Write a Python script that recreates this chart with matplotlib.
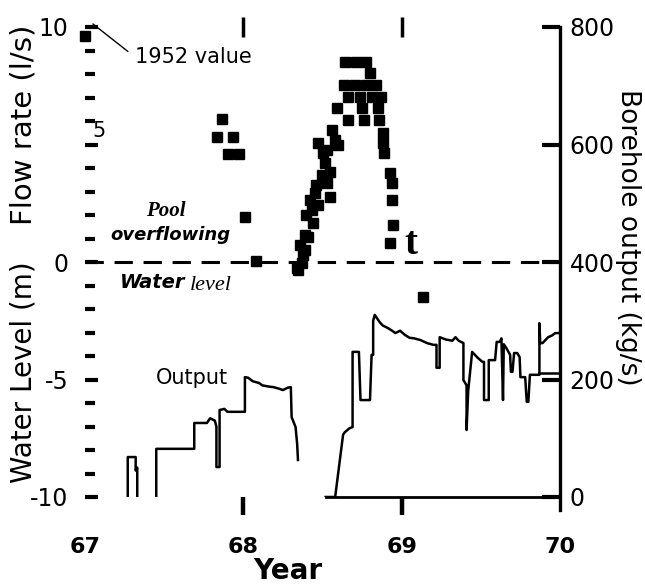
import matplotlib
matplotlib.use('Agg')
import matplotlib.pyplot as plt
from matplotlib.ticker import MultipleLocator, FixedFormatter

# ---- data ----
# flow rate (l/s) -- squares
flow_year = [67.0, 67.865, 67.834, 67.935, 67.903, 67.973, 68.011, 68.08,
             68.642, 68.712, 68.775, 68.80, 68.636, 68.706, 68.775, 68.838,
             68.661, 68.737, 68.813, 68.870, 68.592, 68.750, 68.851,
             68.661, 68.762, 68.857, 68.560, 68.579, 68.472, 68.529, 68.598,
             68.883, 68.883, 68.889, 68.927, 68.939, 68.939, 68.946, 68.927,
             68.503, 68.548, 68.529, 68.548, 68.453, 68.434, 68.440, 68.409,
             68.390, 68.371, 68.516, 68.497, 68.459, 68.421, 68.472, 68.396,
             68.390, 68.358, 68.377]
flow_rate = [9.6, 6.09, 5.32, 5.32, 4.60, 4.60, 1.91, 0.05,
             8.51, 8.51, 8.51, 8.04, 7.53, 7.53, 7.53, 7.53,
             7.02, 7.02, 7.02, 7.02, 6.55, 6.55, 6.55,
             6.04, 6.04, 6.04, 5.62, 5.19, 5.06, 4.77, 4.98,
             5.49, 5.06, 4.64, 3.79, 3.36, 2.64, 1.57, 0.81,
             4.64, 3.83, 3.36, 2.77, 2.94, 2.21, 1.66, 1.06,
             0.51, -0.04, 4.21, 3.70, 3.28, 2.64, 2.43, 2.00,
             1.15, 0.72, 0.30]

# water level (m) -- squares below the overflow line
level_year = [68.346, 68.339, 69.135]
level_m = [-0.34, -0.26, -1.5]

# borehole output (kg/s), pieces of the trace
out1_year = [67.27, 67.27, 67.32, 67.32, 67.33, 67.33]
out1_kgs = [0, 68, 68, 45, 50, 0]

out2_year = [67.45, 67.45, 67.69, 67.69, 67.77, 67.79, 67.82, 67.83, 67.83,
             67.85, 67.85, 67.88, 67.90, 67.94, 68.01, 68.01, 68.03, 68.06,
             68.10, 68.12, 68.16, 68.19, 68.23, 68.25, 68.28, 68.30, 68.305,
             68.33, 68.34, 68.345]
out2_kgs = [0, 82, 82, 126, 126, 134, 130, 120, 51,
            51, 148, 150, 145, 145, 145, 204, 203, 197,
            194, 190, 188, 187, 184, 182, 186, 187, 136,
            119, 90, 63]

out3_year = [68.52, 68.58, 68.63, 68.64, 68.67, 68.69, 68.69, 68.73, 68.74,
             68.80, 68.81, 68.82, 68.82, 68.83, 68.86, 68.88, 68.91, 68.94,
             68.96, 68.99, 69.02, 69.05, 69.08, 69.12, 69.16, 69.20, 69.22,
             69.22, 69.24, 69.24, 69.28, 69.32, 69.34, 69.36, 69.39, 69.39,
             69.41, 69.41, 69.42, 69.445, 69.48, 69.51, 69.52, 69.52, 69.55,
             69.55, 69.59, 69.60, 69.62, 69.63, 69.64, 69.645, 69.66, 69.685,
             69.69, 69.70, 69.71, 69.73, 69.745, 69.75, 69.78, 69.79, 69.80,
             69.81, 69.87, 69.87, 69.875, 69.89, 69.925, 69.95, 69.97, 70.0]
out3_kgs = [0, 0, 106, 110, 117, 119, 247, 247, 165,
            165, 242, 242, 300, 310, 298, 292, 288, 283,
            279, 283, 276, 271, 270, 267, 262, 259, 259,
            220, 220, 272, 268, 266, 272, 266, 262, 199,
            190, 114, 180, 247, 237, 230, 230, 165, 165,
            233, 233, 264, 264, 270, 165, 260, 254, 242,
            213, 213, 245, 245, 238, 204, 204, 162, 162,
            208, 208, 296, 262, 262, 272, 275, 279, 279]

out4_year = [69.87, 70.0]
out4_kgs = [211, 211]

x_ticks = [67, 68, 69, 70]
x_labels = ['67', '68', '69', '70']
left_ticks = [-10, -5, 0, 5, 10]
left_labels = ['-10', '-5', '0', '', '10']
right_ticks = [0, 200, 400, 600, 800]

W, H = 645, 586


def px(x, y):
    return x / W, 1 - y / H


fig = plt.figure(figsize=(6.45, 5.86), dpi=100)
ax = fig.add_axes([85 / W, 1 - 497 / H, 475 / W, 470 / H])
ax2 = ax.twinx()

ax.set_xlim(67, 70)
ax.set_ylim(-10, 10)
ax2.set_ylim(0, 800)

# overflow line
ax.axhline(0, color='black', lw=2.2, ls=(0, (6, 3.5)), zorder=2)

ax.plot(flow_year, flow_rate, 's', ms=7.5, color='black', clip_on=False, zorder=3)
ax.plot(level_year, level_m, 's', ms=7.5, color='black', clip_on=False, zorder=3)

for yy, kk in [(out1_year, out1_kgs), (out2_year, out2_kgs),
               (out3_year, out3_kgs), (out4_year, out4_kgs)]:
    ax2.plot(yy, kk, '-', color='black', lw=1.8)

# spines
for s in ['top', 'left', 'right']:
    ax.spines[s].set_visible(False)
ax.spines['bottom'].set_bounds(68.52, 70)
ax.spines['bottom'].set_linewidth(2.0)
for s in ['top', 'left', 'bottom']:
    ax2.spines[s].set_visible(False)
ax2.spines['right'].set_linewidth(2.4)
ax2.spines['right'].set_bounds(-22, 800)

# x axis
ax.xaxis.remove_overlapping_locs = False
ax.set_xticks(x_ticks)
ax.set_xticklabels(x_labels, fontsize=16, fontweight='bold')
ax.tick_params(axis='x', which='major', length=0, pad=29)
ax.set_xticks([68, 69], minor=True)
ax.tick_params(axis='x', which='minor', direction='out', length=13, width=3.2)
top = ax.secondary_xaxis('top')
top.set_xticks([68, 69])
top.tick_params(direction='inout', length=14, width=2.5, labeltop=False)
top.spines['top'].set_visible(False)

# left axis
ax.set_yticks(left_ticks)
ax.yaxis.set_major_formatter(FixedFormatter(left_labels))
ax.yaxis.set_minor_locator(MultipleLocator(1))
ax.tick_params(axis='y', which='major', direction='in', length=9, width=3,
               labelsize=17, pad=12)
ax.tick_params(axis='y', which='minor', direction='in', length=7, width=3)

# right axis
ax2.set_yticks(right_ticks)
ax2.tick_params(axis='y', direction='in', length=13, width=3, labelsize=17, pad=7)

# axis titles
fig.text(*px(288, 571), 'Year', fontsize=20, fontweight='bold', ha='center', va='center')
fig.text(*px(24, 125), 'Flow rate (l/s)', fontsize=21, rotation=90, ha='center', va='center')
fig.text(*px(24, 372), 'Water Level (m)', fontsize=20, rotation=90, ha='center', va='center')
fig.text(*px(628, 237), 'Borehole output (kg/s)', fontsize=19, rotation=270,
         ha='center', va='center')

# annotations
ax.annotate('1952 value', xy=(67.05, 10.13), xytext=(67.316, 8.72),
            fontsize=15, ha='left', va='center', annotation_clip=False,
            arrowprops=dict(arrowstyle='-', lw=1.0, shrinkA=4, shrinkB=0,
                            relpos=(0, 0.5)))
fig.text(*px(99, 131), '5', fontsize=15, ha='center', va='center')
fig.text(*px(166, 211), 'Pool', fontsize=15, family='Liberation Serif',
         style='italic', fontweight='bold', ha='center', va='center')
fig.text(*px(170, 235), 'overflowing', fontsize=13, style='italic',
         fontweight='bold', ha='center', va='center')
fig.text(*px(120, 283), 'Water', fontsize=14, style='italic',
         fontweight='bold', ha='left', va='center')
fig.text(*px(190, 285), 'level', fontsize=16, family='Liberation Serif',
         style='italic', ha='left', va='center')
fig.text(*px(192, 378), 'Output', fontsize=15, ha='center', va='center')
fig.text(*px(411, 245), 't', fontsize=28, family='Liberation Serif',
         fontweight='bold', ha='center', va='center')

fig.savefig('out.png', dpi=100)
